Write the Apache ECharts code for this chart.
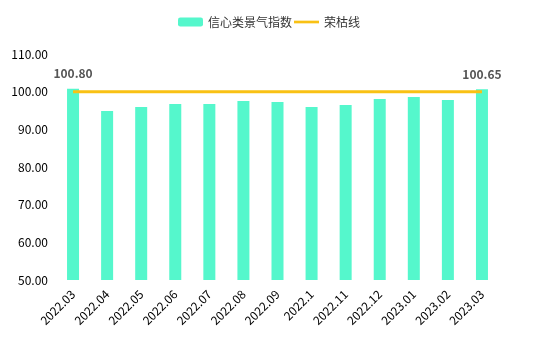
<!DOCTYPE html>
<html>
<head>
<meta charset="utf-8">
<script src="https://cdn.jsdelivr.net/npm/echarts@6/dist/echarts.min.js"></script>
<style>
  html, body { margin: 0; padding: 0; background: #fff; }
  #chart { width: 548px; height: 341px; }
</style>
</head>
<body>
<div id="chart"></div>
<script>
// Monthly confidence index against the 100 boom-bust line
const categories = ['2022.03', '2022.04', '2022.05', '2022.06', '2022.07', '2022.08', '2022.09',
  '2022.1', '2022.11', '2022.12', '2023.01', '2023.02', '2023.03'];
const indexValues = [100.80, 94.9, 95.9, 96.7, 96.7, 97.5, 97.25, 95.9, 96.45, 98.05, 98.6, 97.8, 100.65];
const thresholdValues = [100, 100, 100, 100, 100, 100, 100, 100, 100, 100, 100, 100, 100];
const yTicks = { min: 50, max: 110, interval: 10 };

const fontFamily = '"Noto Sans CJK SC", "Noto Sans", sans-serif';
const lastIdx = indexValues.length - 1;

const chart = echarts.init(document.getElementById('chart'));
chart.setOption({
  animation: false,
  textStyle: { fontFamily },
  legend: {
    top: 11,
    left: 173,
    itemWidth: 25,
    itemHeight: 9,
    itemGap: 2,
    data: [
      { name: '信心类景气指数' },
      { name: '荣枯线', icon: 'path://M0,0 L28,0 L28,3 L0,3 Z' }
    ],
    textStyle: { fontSize: 12, color: '#333', fontFamily }
  },
  grid: { left: 56, right: 49, top: 54, bottom: 61 },
  xAxis: {
    type: 'category',
    data: categories,
    axisLine: { show: false },
    axisTick: { show: false },
    axisLabel: { rotate: 45, fontSize: 12, color: '#000', margin: 12, interval: 0 }
  },
  yAxis: {
    type: 'value',
    min: yTicks.min,
    max: yTicks.max,
    interval: yTicks.interval,
    axisLine: { show: false },
    axisTick: { show: false },
    splitLine: { show: false },
    axisLabel: {
      fontSize: 12,
      color: '#000',
      margin: 8,
      formatter: v => v.toFixed(2)
    }
  },
  series: [
    {
      name: '信心类景气指数',
      type: 'bar',
      barWidth: 12,
      data: indexValues.map((v, i) => ({
        value: v,
        label: { show: i === 0 || i === lastIdx }
      })),
      itemStyle: { color: '#55F7CC' },
      label: {
        position: 'top',
        distance: 9,
        fontSize: 12,
        fontWeight: 'bold',
        color: '#555',
        formatter: p => p.value.toFixed(2)
      }
    },
    {
      name: '荣枯线',
      type: 'line',
      data: thresholdValues,
      symbol: 'none',
      lineStyle: { color: '#F9C114', width: 3 },
      itemStyle: { color: '#F9C114' }
    }
  ]
});
</script>
</body>
</html>
